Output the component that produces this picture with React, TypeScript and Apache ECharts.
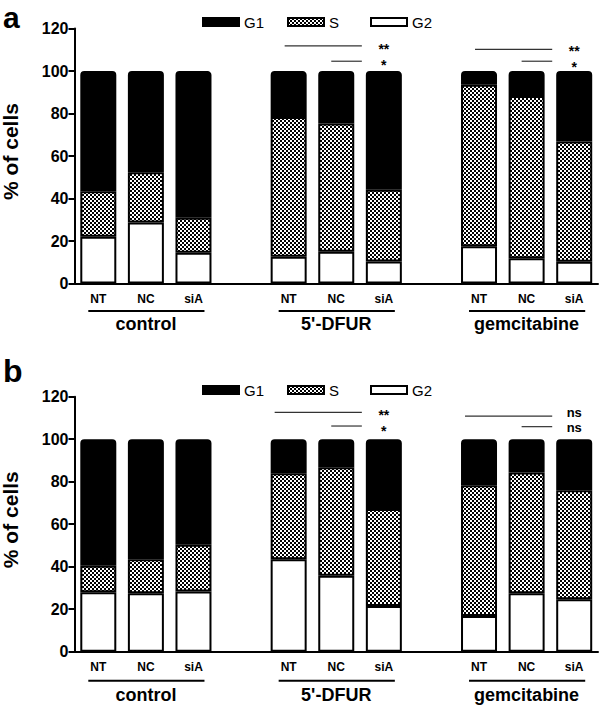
import React, { useEffect, useRef } from 'react';
import * as echarts from 'echarts';

// ---- data ----
const CATEGORIES = ['NT', 'NC', 'siA', '', 'NT', 'NC', 'siA', '', 'NT', 'NC', 'siA'];
const GROUPS = ['control', "5'-DFUR", 'gemcitabine'];
const GROUP_FIRST = [0, 4, 8];
const GROUP_LAST = [2, 6, 10];
const PHASES = ['G1', 'S', 'G2'];
const Y_MIN = 0;
const Y_MAX = 120;
const Y_STEP = 20;

// panel a (% of cells per phase)
const G2_A = [22, 28.7, 14.5, null, 12.6, 15, 10.4, null, 17.5, 11.9, 10.2];
const S_A = [21.4, 23.7, 16.5, null, 65.7, 60.3, 33.7, null, 76, 76.3, 56.6];
const G1_A = [56.6, 47.6, 69, null, 21.7, 24.7, 55.9, null, 6.5, 11.8, 33.2];

// panel b
const G2_B = [28, 27.5, 28.3, null, 43.5, 35.7, 21.5, null, 16.8, 27.5, 24.7];
const S_B = [12.5, 16, 22, null, 40.5, 51.1, 45.7, null, 61.5, 56.8, 51.3];
const G1_B = [59.5, 56.5, 49.7, null, 16, 13.2, 32.8, null, 21.7, 15.7, 24];

// significance brackets: compare "from" vs "to" (long) and "mid" vs "to" (short)
const SIG_A = [
  { from: 4, mid: 5, to: 6, longY: 111.8, shortY: 104.6, marks: ['**', '*'] },
  { from: 8, mid: 9, to: 10, longY: 110.2, shortY: 104.6, marks: ['**', '*'] },
];
const SIG_B = [
  { from: 4, mid: 5, to: 6, longY: 112.6, shortY: 106.2, marks: ['**', '*'] },
  { from: 8, mid: 9, to: 10, longY: 110.9, shortY: 105.9, marks: ['ns', 'ns'] },
];

const PANEL_LETTERS = ['a', 'b'];

const FONT = '"Liberation Sans", Arial, Helvetica, sans-serif';

export default function App() {
  const ref = useRef<HTMLDivElement>(null);

  useEffect(() => {
    const el = ref.current!;
    const chart = echarts.init(el, null, { renderer: 'svg' });

    const pat = document.createElement('canvas');
    pat.width = 4;
    pat.height = 4;
    const ctx = pat.getContext('2d')!;
    ctx.fillStyle = '#fff';
    ctx.fillRect(0, 0, 4, 4);
    ctx.fillStyle = '#000';
    ctx.fillRect(0, 0, 2, 2);
    ctx.fillRect(2, 2, 2, 2);

    const styles: Record<string, any> = {
      G1: { color: '#000', borderColor: '#000', borderWidth: 2, borderRadius: [3, 3, 0, 0] },
      S: { color: { image: pat, repeat: 'repeat' }, borderColor: '#000', borderWidth: 2 },
      G2: { color: '#fff', borderColor: '#000', borderWidth: 2 },
    };

    const panels = [
      { G1: G1_A, S: S_A, G2: G2_A, sig: SIG_A },
      { G1: G1_B, S: S_B, G2: G2_B, sig: SIG_B },
    ];
    const gridTops = [28.5, 396.7];
    const legendTops = [14.5, 382.5];
    const legendLefts = [202, 287, 370];

    const grids = gridTops.map((t) => ({ left: 74.5, top: t, width: 523.5, height: 255 }));
    const xAxes = panels.map((_, i) => ({
      type: 'category',
      gridIndex: i,
      data: CATEGORIES,
      axisLine: { lineStyle: { color: '#000', width: 2 } },
      axisTick: { alignWithLabel: true, interval: 0, length: 5, lineStyle: { color: '#000', width: 2 } },
      axisLabel: { interval: 0, color: '#000', fontWeight: 'bold', fontSize: 12, fontFamily: FONT, margin: 9 },
    }));
    const yAxes = panels.map((_, i) => ({
      type: 'value',
      gridIndex: i,
      min: Y_MIN,
      max: Y_MAX,
      interval: Y_STEP,
      axisLine: { show: true, lineStyle: { color: '#000', width: 2 } },
      axisTick: { show: true, length: 6, lineStyle: { color: '#000', width: 2 } },
      axisLabel: { color: '#000', fontWeight: 'bold', fontSize: 16, fontFamily: FONT, margin: 6 },
      splitLine: { show: false },
    }));

    const series: any[] = [];
    panels.forEach((p: any, i) => {
      ['G2', 'S', 'G1'].forEach((ph) => {
        series.push({
          name: ph,
          type: 'bar',
          xAxisIndex: i,
          yAxisIndex: i,
          stack: 'p' + i,
          barWidth: 36,
          data: p[ph],
          itemStyle: styles[ph],
          emphasis: { disabled: true },
        });
      });
    });

    const legends: any[] = [];
    legendTops.forEach((top) => {
      PHASES.forEach((ph, k) => {
        legends.push({
          data: [ph],
          left: legendLefts[k],
          top,
          padding: 0,
          icon: 'rect',
          itemWidth: 36,
          itemHeight: 8,
          itemGap: 5,
          selectedMode: false,
          textStyle: { color: '#000', fontSize: 15, fontFamily: FONT, padding: [0, 0, 0, 0] },
        });
      });
    });

    chart.setOption({
      animation: false,
      backgroundColor: '#fff',
      grid: grids,
      xAxis: xAxes,
      yAxis: yAxes,
      legend: legends,
      series,
    });

    const graphics: any[] = [];
    const letterSizes = [30, 32];
    const letterYs = [17, 371];
    const underOff = [27.5, 29];
    const labelOff = [40.7, 43];
    const sigStart = [4, 14];
    panels.forEach((p, pi) => {
      const px = (i: number, v: number) => chart.convertToPixel({ gridIndex: pi } as any, [i, v]) as number[];
      const yBottom = px(0, Y_MIN)[1];
      const yTop = px(0, Y_MAX)[1];
      graphics.push({
        type: 'text', x: 3, y: letterYs[pi], silent: true,
        style: { text: PANEL_LETTERS[pi], fontSize: letterSizes[pi], lineHeight: 16, fontWeight: 'bold', fontFamily: FONT, fill: '#000', verticalAlign: 'middle' },
      });
      graphics.push({
        type: 'text', x: 10, y: (yBottom + yTop) / 2 - 4.5, rotation: Math.PI / 2, silent: true,
        style: { text: '% of cells', fontSize: 21, fontWeight: 'bold', fontFamily: FONT, fill: '#000', align: 'center', verticalAlign: 'middle' },
      });
      GROUPS.forEach((g, gi) => {
        const x1 = px(GROUP_FIRST[gi], 0)[0] - 10;
        const x2 = px(GROUP_LAST[gi], 0)[0] + 11;
        const xm = px(GROUP_FIRST[gi] + 1, 0)[0];
        graphics.push({
          type: 'line', silent: true,
          shape: { x1, y1: yBottom + underOff[pi], x2, y2: yBottom + underOff[pi] },
          style: { stroke: '#000', lineWidth: 2 },
        });
        graphics.push({
          type: 'text', x: xm, y: yBottom + labelOff[pi], silent: true,
          style: { text: g, fontSize: 18, fontWeight: 'bold', fontFamily: FONT, fill: '#000', align: 'center', verticalAlign: 'middle' },
        });
      });
      p.sig.forEach((s) => {
        const xEnd = px(s.to, 0)[0] - 22;
        const yl = px(0, s.longY)[1];
        const ys = px(0, s.shortY)[1];
        graphics.push({
          type: 'line', silent: true,
          shape: { x1: px(s.from, 0)[0] - sigStart[pi], y1: yl, x2: xEnd, y2: yl },
          style: { stroke: '#333', lineWidth: 1.2 },
        });
        graphics.push({
          type: 'line', silent: true,
          shape: { x1: px(s.mid, 0)[0] - 5, y1: ys, x2: xEnd, y2: ys },
          style: { stroke: '#333', lineWidth: 1.2 },
        });
        const xc = px(s.to, 0)[0];
        const isStar = s.marks[0].indexOf('*') >= 0;
        const mid = (yl + ys) / 2;
        graphics.push({
          type: 'text', x: xc, y: isStar ? mid + 3.4 : mid - 1.6, silent: true,
          style: {
            text: s.marks.join('\n'),
            fontSize: isStar ? 14 : 13,
            lineHeight: isStar ? 16 : 15,
            fontWeight: 'bold', fontFamily: FONT, fill: '#000', align: 'center', verticalAlign: 'middle',
          },
        });
      });
    });
    chart.setOption({ graphic: graphics });

    return () => chart.dispose();
  }, []);

  return <div ref={ref} style={{ position: 'absolute', left: 0, top: 0, width: 600, height: 705 }} />;
}
